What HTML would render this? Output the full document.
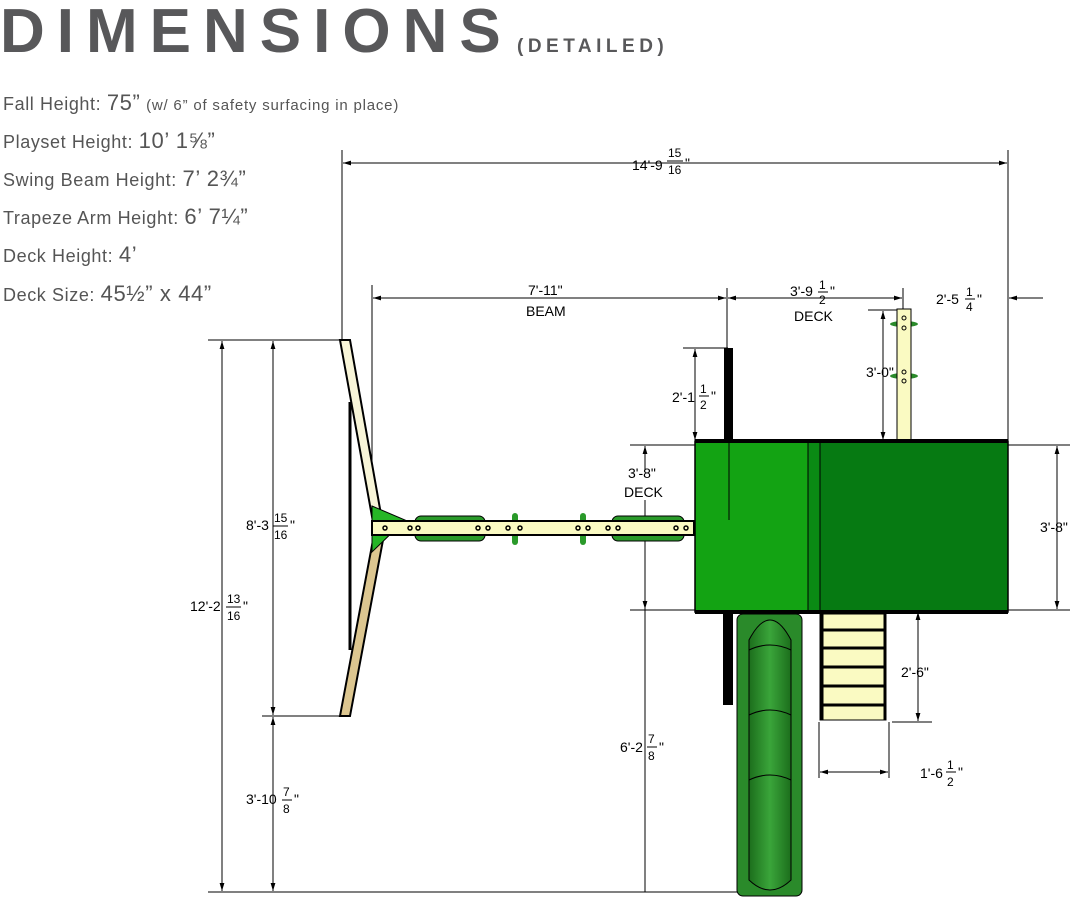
<!DOCTYPE html>
<html><head><meta charset="utf-8"><style>
html,body{margin:0;padding:0;background:#fff;}
svg{display:block;}
text{font-family:"Liberation Sans",sans-serif;}
</style></head><body>
<svg width="1076" height="898" viewBox="0 0 1076 898" xmlns="http://www.w3.org/2000/svg">
<defs>
<marker id="a" viewBox="0 0 10 10" refX="10" refY="5" markerWidth="8" markerHeight="8" orient="auto-start-reverse"><path d="M0,2 L10,5 L0,8 z" fill="#000"/></marker>
<linearGradient id="sl" x1="0" x2="1"><stop offset="0" stop-color="#1c6e1c"/><stop offset="0.5" stop-color="#3aa53a"/><stop offset="1" stop-color="#1c6e1c"/></linearGradient>
</defs>
<text x="0" y="52" font-size="62" font-weight="bold" fill="#58585a" letter-spacing="12">DIMENSIONS</text>
<text x="517" y="52" font-size="19" font-weight="bold" fill="#58585a" letter-spacing="4.5">(DETAILED)</text>
<g fill="#555" font-size="18" letter-spacing="0.6">
<text x="3" y="110">Fall Height: <tspan font-size="22">75”</tspan> <tspan font-size="15" letter-spacing="0.8">(w/ 6” of safety surfacing in place)</tspan></text>
<text x="3" y="148">Playset Height: <tspan font-size="22"> 10’ 1⅝”</tspan></text>
<text x="3" y="186">Swing Beam Height: <tspan font-size="22"> 7’ 2¾”</tspan></text>
<text x="3" y="224">Trapeze Arm Height: <tspan font-size="22"> 6’ 7¼”</tspan></text>
<text x="3" y="262">Deck Height: <tspan font-size="22">  4’</tspan></text>
<text x="3" y="301">Deck Size: <tspan font-size="22"> 45½” x 44”</tspan></text>
</g>
<g stroke="#000" stroke-width="1" fill="none">
<line x1="342" y1="150" x2="342" y2="340"/><line x1="1008" y1="150" x2="1008" y2="440"/>
<line x1="372" y1="285" x2="372" y2="520"/><line x1="727" y1="288" x2="727" y2="520"/>
<line x1="903" y1="288" x2="903" y2="310"/>
<line x1="208" y1="340" x2="345" y2="340"/><line x1="208" y1="892" x2="740" y2="892"/>
<line x1="262" y1="716" x2="345" y2="716"/>
<line x1="683" y1="348" x2="728" y2="348"/>
<line x1="630" y1="445" x2="695" y2="445"/><line x1="630" y1="610" x2="695" y2="610"/>
<line x1="868" y1="310" x2="900" y2="310"/>
<line x1="1008" y1="445" x2="1070" y2="445"/><line x1="1008" y1="610" x2="1070" y2="610"/>
<line x1="892" y1="722" x2="932" y2="722"/>
<line x1="819" y1="722" x2="819" y2="778"/><line x1="889" y1="722" x2="889" y2="778"/>
<line x1="1013" y1="298" x2="1043" y2="298"/>
</g>
<g stroke="#000" stroke-width="1" fill="none" marker-start="url(#a)" marker-end="url(#a)">
<line x1="343" y1="163" x2="1007" y2="163"/>
<line x1="373" y1="298" x2="726" y2="298"/>
<line x1="728" y1="298" x2="902" y2="298"/>
<line x1="222" y1="341" x2="222" y2="891"/>
<line x1="273" y1="341" x2="273" y2="715"/>
<line x1="273" y1="717" x2="273" y2="891"/>
<line x1="695" y1="349" x2="695" y2="440"/>
<line x1="883" y1="311" x2="883" y2="440"/>
<line x1="1057" y1="446" x2="1057" y2="609"/>
<line x1="918" y1="612" x2="918" y2="721"/>
<line x1="820" y1="772" x2="888" y2="772"/>
</g>
<line x1="645" y1="500" x2="645" y2="892" stroke="#000"/>
<g stroke="#000" marker-end="url(#a)"><line x1="645" y1="470" x2="645" y2="446"/><line x1="645" y1="585" x2="645" y2="609"/><line x1="1040" y1="298" x2="1009" y2="298"/></g>
<polygon points="340,340 350,340 382,520 373,522" fill="#f8f5d8" stroke="#000" stroke-width="2"/>
<polygon points="373,540 383,540 350,716 340,716" fill="#dcc690" stroke="#000" stroke-width="2"/>
<line x1="350" y1="402" x2="350" y2="650" stroke="#000" stroke-width="3"/>
<polygon points="372,506 405,520 372,552" fill="#26b626" stroke="#000"/>
<rect x="415" y="516" width="70" height="25" rx="6" fill="#2a9a2a" stroke="#000"/>
<rect x="612" y="516" width="72" height="25" rx="6" fill="#2a9a2a" stroke="#000"/>
<rect x="512" y="513" width="6" height="32" rx="3" fill="#2a9a2a"/><rect x="580" y="513" width="6" height="32" rx="3" fill="#2a9a2a"/>
<rect x="372" y="521" width="322" height="14" fill="#fafac2" stroke="#000" stroke-width="2"/>
<g fill="none" stroke="#000" stroke-width="1.5">
<circle cx="385" cy="528" r="2"/><circle cx="410" cy="528" r="2"/><circle cx="418" cy="528" r="2"/><circle cx="478" cy="528" r="2"/><circle cx="488" cy="528" r="2"/><circle cx="508" cy="528" r="2"/><circle cx="520" cy="528" r="2"/><circle cx="578" cy="528" r="2"/><circle cx="588" cy="528" r="2"/><circle cx="608" cy="528" r="2"/><circle cx="618" cy="528" r="2"/><circle cx="676" cy="528" r="2"/><circle cx="686" cy="528" r="2"/>
</g>
<rect x="724" y="348" width="9" height="94" fill="#000"/>
<rect x="723" y="612" width="10" height="93" fill="#000"/>
<ellipse cx="904" cy="324" rx="14" ry="3" fill="#2a8a2a"/><ellipse cx="904" cy="376" rx="14" ry="3" fill="#2a8a2a"/>
<rect x="897" y="309" width="14" height="133" fill="#fafac2" stroke="#000"/>
<g fill="none" stroke="#000"><circle cx="904" cy="318" r="2"/><circle cx="904" cy="328" r="2"/><circle cx="904" cy="372" r="2"/><circle cx="904" cy="381" r="2"/></g>
<rect x="695" y="441" width="113" height="171" fill="#13a313"/>
<rect x="808" y="441" width="12" height="171" fill="#0a8a14"/>
<rect x="820" y="441" width="188" height="171" fill="#067a12"/>
<rect x="695" y="441" width="313" height="171" fill="none" stroke="#000" stroke-width="1.5"/>
<line x1="695" y1="441" x2="1008" y2="441" stroke="#000" stroke-width="4"/>
<line x1="695" y1="612" x2="1008" y2="612" stroke="#000" stroke-width="4"/>
<line x1="808" y1="441" x2="808" y2="612" stroke="#000"/><line x1="820" y1="441" x2="820" y2="612" stroke="#000"/>
<line x1="729" y1="442" x2="729" y2="520" stroke="#000"/>
<rect x="737" y="614" width="65" height="282" rx="6" fill="#2a8a2a" stroke="#000"/>
<path d="M749,640 Q770,600 791,640 L791,880 Q770,900 749,880 Z" fill="url(#sl)" stroke="#000"/>
<path d="M749,650 Q770,640 791,650 M749,715 Q770,705 791,715 M749,780 Q770,770 791,780" stroke="#000" fill="none"/>
<rect x="820" y="614" width="66" height="106" fill="#fafac2" stroke="#000"/>
<g stroke="#000" stroke-width="3"><line x1="820" y1="630" x2="886" y2="630"/><line x1="820" y1="648" x2="886" y2="648"/><line x1="820" y1="667" x2="886" y2="667"/><line x1="820" y1="686" x2="886" y2="686"/><line x1="820" y1="705" x2="886" y2="705"/><line x1="822" y1="614" x2="822" y2="720"/><line x1="885" y1="614" x2="885" y2="720"/></g>
<g font-size="14" fill="#000">
<text x="632" y="170">14'-9</text><text x="668" y="157" font-size="12">15</text><line x1="667" y1="161" x2="683" y2="161" stroke="#000"/><text x="668" y="174" font-size="12">16</text><text x="685" y="168">"</text>
<text x="528" y="295">7'-11"</text><text x="526" y="316">BEAM</text>
<text x="790" y="296">3'-9</text><text x="819" y="289" font-size="12">1</text><line x1="818" y1="292" x2="828" y2="292" stroke="#000"/><text x="819" y="304" font-size="12">2</text><text x="830" y="296">"</text>
<text x="794" y="321">DECK</text>
<text x="936" y="304">2'-5</text><text x="966" y="296" font-size="12">1</text><line x1="965" y1="299" x2="975" y2="299" stroke="#000"/><text x="966" y="311" font-size="12">4</text><text x="977" y="304">"</text>
<text x="672" y="402">2'-1</text><text x="700" y="393" font-size="12">1</text><line x1="699" y1="396" x2="709" y2="396" stroke="#000"/><text x="700" y="409" font-size="12">2</text><text x="711" y="401">"</text>
<text x="866" y="377">3'-0"</text>
<text x="628" y="478">3'-8"</text><text x="624" y="497">DECK</text>
<text x="1040" y="532">3'-8"</text>
<text x="901" y="677">2'-6"</text>
<text x="920" y="778">1'-6</text><text x="947" y="769" font-size="12">1</text><line x1="946" y1="772" x2="956" y2="772" stroke="#000"/><text x="947" y="786" font-size="12">2</text><text x="958" y="777">"</text>
<text x="246" y="530">8'-3</text><text x="274" y="522" font-size="12">15</text><line x1="273" y1="526" x2="288" y2="526" stroke="#000"/><text x="274" y="539" font-size="12">16</text><text x="290" y="530">"</text>
<text x="190" y="611">12'-2</text><text x="227" y="603" font-size="12">13</text><line x1="226" y1="607" x2="241" y2="607" stroke="#000"/><text x="227" y="620" font-size="12">16</text><text x="243" y="611">"</text>
<text x="246" y="804">3'-10</text><text x="283" y="796" font-size="12">7</text><line x1="282" y1="800" x2="292" y2="800" stroke="#000"/><text x="283" y="813" font-size="12">8</text><text x="294" y="804">"</text>
<text x="620" y="752">6'-2</text><text x="648" y="743" font-size="12">7</text><line x1="647" y1="747" x2="657" y2="747" stroke="#000"/><text x="648" y="760" font-size="12">8</text><text x="659" y="752">"</text>
</g>
</svg>
</body></html>
